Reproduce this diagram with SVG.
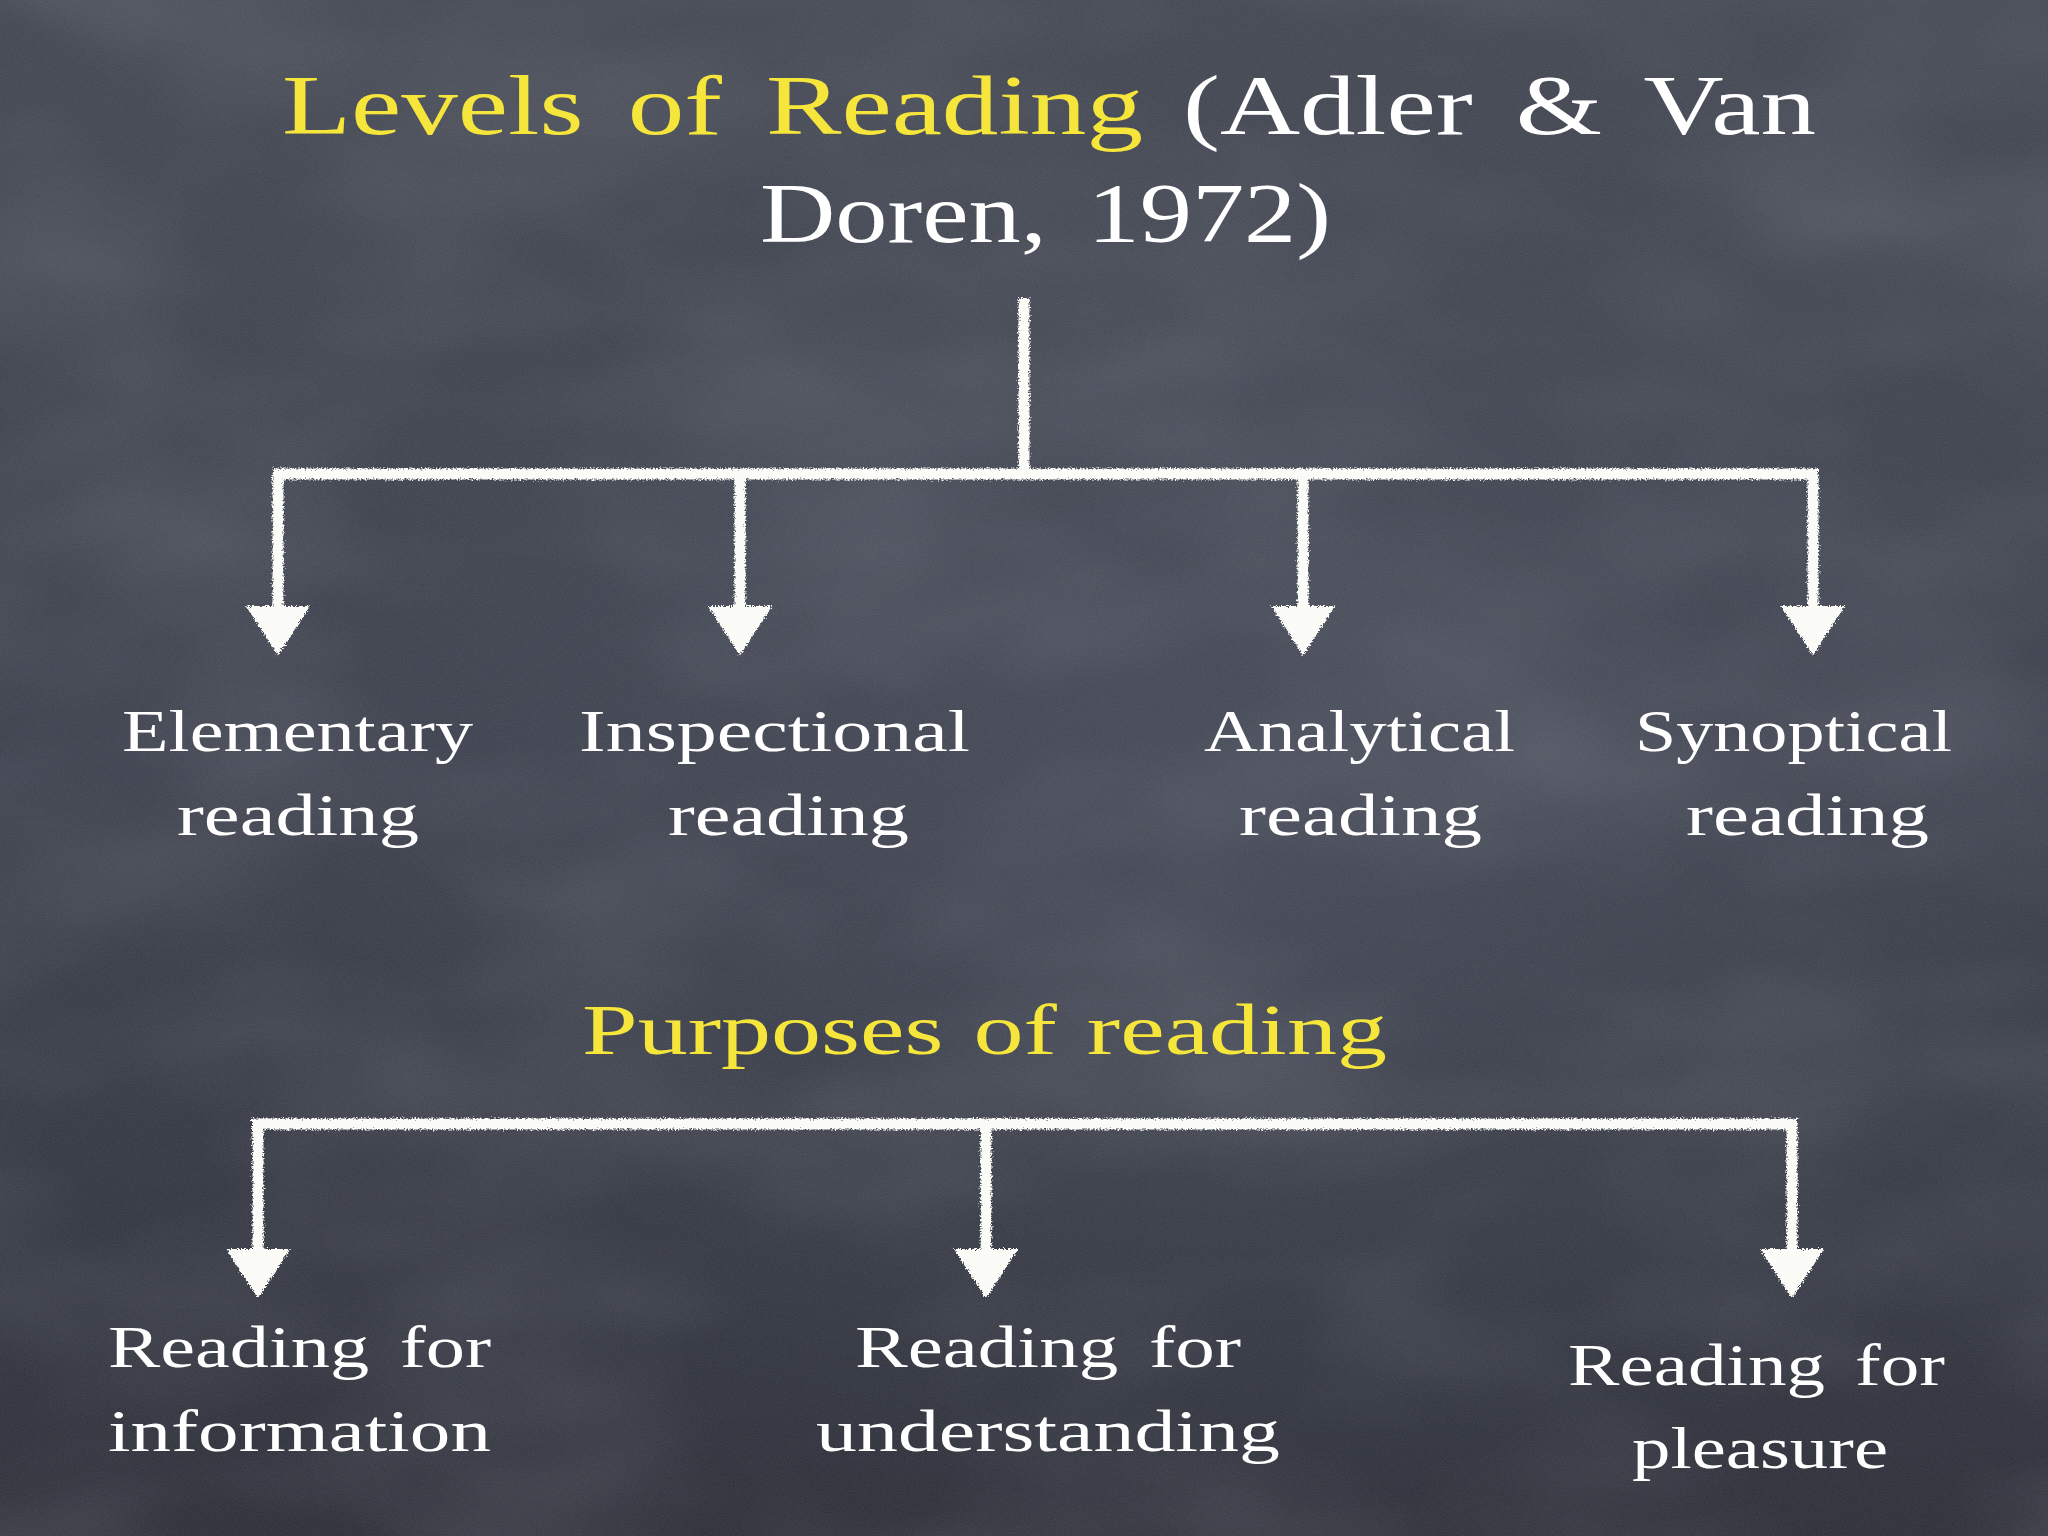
<svg xmlns="http://www.w3.org/2000/svg" width="2048" height="1536" viewBox="0 0 2048 1536">
<defs>
<linearGradient id="bg" x1="0" y1="0" x2="0" y2="1">
<stop offset="0" stop-color="#40444f"/>
<stop offset="0.5" stop-color="#393d49"/>
<stop offset="1" stop-color="#292c35"/>
</linearGradient>
<radialGradient id="glow" cx="0.6" cy="0.55" r="0.45">
<stop offset="0" stop-color="#5a6070" stop-opacity="0.3"/>
<stop offset="1" stop-color="#5a6070" stop-opacity="0"/>
</radialGradient>
<filter id="grain" x="0" y="0" width="1" height="1">
<feTurbulence type="fractalNoise" baseFrequency="0.9" numOctaves="2" seed="3" result="n"/>
<feColorMatrix in="n" type="matrix" values="0 0 0 0 0.8  0 0 0 0 0.82  0 0 0 0 0.88  0 0 0 0.12 0"/>
</filter>
<filter id="clouds" x="0" y="0" width="1" height="1">
<feTurbulence type="fractalNoise" baseFrequency="0.003 0.006" numOctaves="3" seed="7" result="c"/>
<feColorMatrix in="c" type="matrix" values="0 0 0 0 0.6  0 0 0 0 0.62  0 0 0 0 0.7  0 0 0 0.22 -0.08"/>
</filter>
<filter id="chalk" x="-5%" y="-5%" width="110%" height="110%">
<feTurbulence type="fractalNoise" baseFrequency="0.6" numOctaves="2" seed="2" result="t"/>
<feDisplacementMap in="SourceGraphic" in2="t" scale="6" xChannelSelector="R" yChannelSelector="G"/>
</filter>
<marker id="head" markerUnits="userSpaceOnUse" markerWidth="50" markerHeight="64" viewBox="0 0 48 62" refX="0" refY="31" orient="auto">
<path d="M0,0 L48,31 L0,62 Z" fill="#fbfbf8"/>
</marker>
<style>
.ln{stroke:#fbfbf8;stroke-width:11;fill:none}
.ar{stroke:#fbfbf8;stroke-width:11;fill:none;marker-end:url(#head)}
.t{font-family:"Liberation Serif","Times New Roman",serif;fill:#ffffff;word-spacing:0.14em}
.lbl{font-size:60px}
.ttl{font-size:85px}
.y{fill:#f6e53b}
</style>
</defs>
<rect width="2048" height="1536" fill="url(#bg)"/>
<rect width="2048" height="1536" fill="url(#glow)"/>
<rect width="2048" height="1536" filter="url(#clouds)"/>
<rect width="2048" height="1536" filter="url(#grain)"/>

<g id="title">
<text class="t ttl y" x="282" y="134" textLength="861" lengthAdjust="spacingAndGlyphs">Levels of Reading</text>
<text class="t ttl" x="1183" y="134" textLength="633" lengthAdjust="spacingAndGlyphs">(Adler &amp; Van</text>
<text class="t ttl" x="760" y="242" textLength="571" lengthAdjust="spacingAndGlyphs">Doren, 1972)</text>
</g>

<g id="connectors" filter="url(#chalk)">
<line class="ln" x1="1024" y1="298" x2="1024" y2="474"/>
<line class="ln" x1="273" y1="474" x2="1818" y2="474"/>
<line class="ar" x1="278" y1="474" x2="278" y2="606"/>
<line class="ar" x1="740" y1="474" x2="740" y2="606"/>
<line class="ar" x1="1303" y1="474" x2="1303" y2="606"/>
<line class="ar" x1="1813" y1="474" x2="1813" y2="606"/>
<line class="ln" x1="252" y1="1124" x2="1797" y2="1124"/>
<line class="ar" x1="258" y1="1124" x2="258" y2="1249"/>
<line class="ar" x1="986" y1="1124" x2="986" y2="1249"/>
<line class="ar" x1="1792" y1="1124" x2="1792" y2="1249"/>
</g>

<g id="elementary">
<text class="t lbl" x="122" y="751" textLength="351" lengthAdjust="spacingAndGlyphs">Elementary</text>
<text class="t lbl" x="177" y="835" textLength="242" lengthAdjust="spacingAndGlyphs">reading</text>
</g>
<g id="inspectional">
<text class="t lbl" x="579" y="751" textLength="391" lengthAdjust="spacingAndGlyphs">Inspectional</text>
<text class="t lbl" x="668" y="835" textLength="241" lengthAdjust="spacingAndGlyphs">reading</text>
</g>
<g id="analytical">
<text class="t lbl" x="1204" y="751" textLength="311" lengthAdjust="spacingAndGlyphs">Analytical</text>
<text class="t lbl" x="1239" y="835" textLength="243" lengthAdjust="spacingAndGlyphs">reading</text>
</g>
<g id="synoptical">
<text class="t lbl" x="1635" y="751" textLength="317" lengthAdjust="spacingAndGlyphs">Synoptical</text>
<text class="t lbl" x="1686" y="835" textLength="243" lengthAdjust="spacingAndGlyphs">reading</text>
</g>

<g id="purposes">
<text class="t y" style="font-size:72px;word-spacing:0.05em" x="582" y="1054" textLength="805" lengthAdjust="spacingAndGlyphs">Purposes of reading</text>
</g>

<g id="information">
<text class="t lbl" x="108" y="1367" textLength="383" lengthAdjust="spacingAndGlyphs">Reading for</text>
<text class="t lbl" x="108" y="1451" textLength="383" lengthAdjust="spacingAndGlyphs">information</text>
</g>
<g id="understanding">
<text class="t lbl" x="855" y="1367" textLength="386" lengthAdjust="spacingAndGlyphs">Reading for</text>
<text class="t lbl" x="816" y="1451" textLength="464" lengthAdjust="spacingAndGlyphs">understanding</text>
</g>
<g id="pleasure">
<text class="t lbl" x="1568" y="1385" textLength="377" lengthAdjust="spacingAndGlyphs">Reading for</text>
<text class="t lbl" x="1632" y="1468" textLength="256" lengthAdjust="spacingAndGlyphs">pleasure</text>
</g>
</svg>
